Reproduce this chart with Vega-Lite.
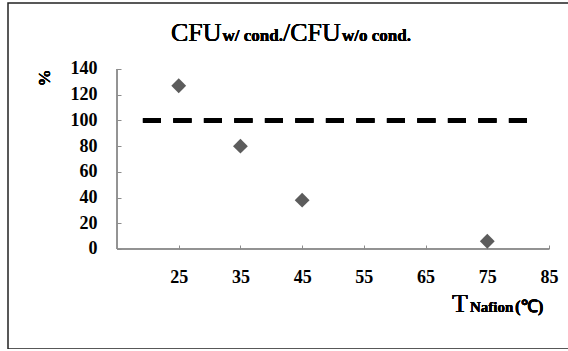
{
  "$schema": "https://vega.github.io/schema/vega-lite/v6.json",
  "autosize": {"type": "none"},
  "padding": {"left": 8, "top": 3, "right": 0, "bottom": 0},
  "width": 562,
  "height": 346,
  "background": "white",
  "config": {
    "view": {"stroke": "#222222", "strokeWidth": 1.5},
    "axis": {"grid": false, "domain": false}
  },
  "data": {
    "values": [
      {"T": 25, "ratio": 127},
      {"T": 35, "ratio": 80},
      {"T": 45, "ratio": 38},
      {"T": 75, "ratio": 6}
    ]
  },
  "layer": [
    {
      "mark": {"type": "rule", "color": "#8c8c8c", "strokeWidth": 1},
      "encoding": {
        "x": {"datum": 15, "type": "quantitative", "scale": {"domain": [-2.662, 88.4], "nice": false, "zero": false},
          "axis": {"values": [25, 35, 45, 55, 65, 75, 85], "offset": -100, "tickSize": -4, "tickColor": "#8c8c8c", "labelPadding": 23, "labelFont": "Liberation Serif", "labelFontWeight": "bold", "labelFontSize": 18, "labelColor": "black", "title": null}},
        "x2": {"datum": 85},
        "y": {"datum": 0, "type": "quantitative", "scale": {"domain": [-77.78, 191.33], "nice": false, "zero": false},
          "axis": {"values": [0, 20, 40, 60, 80, 100, 120, 140], "offset": -109, "tickSize": -4, "tickColor": "#8c8c8c", "labelPadding": 24, "labelFont": "Liberation Serif", "labelFontWeight": "bold", "labelFontSize": 18, "labelColor": "black", "title": null}}
      }
    },
    {
      "mark": {"type": "rule", "color": "#8c8c8c", "strokeWidth": 1},
      "encoding": {
        "x": {"datum": 15, "type": "quantitative"},
        "y": {"datum": 0, "type": "quantitative"},
        "y2": {"datum": 140}
      }
    },
    {
      "mark": {"type": "rule", "color": "black", "strokeWidth": 4.5, "strokeDash": [18, 12.5]},
      "encoding": {
        "x": {"datum": 19.2, "type": "quantitative"},
        "x2": {"datum": 82},
        "y": {"datum": 100, "type": "quantitative"}
      }
    },
    {
      "mark": {"type": "point", "shape": "diamond", "filled": true, "color": "#5c5c5c", "opacity": 1, "size": 220},
      "encoding": {
        "x": {"field": "T", "type": "quantitative"},
        "y": {"field": "ratio", "type": "quantitative"}
      }
    },
    {
      "mark": {"type": "text", "text": "CFU", "font": "Liberation Serif", "fontWeight": "normal", "fontSize": 26, "align": "left", "baseline": "alphabetic", "color": "black"},
      "encoding": {"x": {"datum": 23.75, "type": "quantitative"}, "y": {"datum": 161.8, "type": "quantitative"}}
    },
    {
      "mark": {"type": "text", "text": "w/ cond.", "font": "Liberation Serif", "fontWeight": "bold", "fontSize": 17, "align": "left", "baseline": "alphabetic", "color": "black"},
      "encoding": {"x": {"datum": 32.1, "type": "quantitative"}, "y": {"datum": 161.8, "type": "quantitative"}}
    },
    {
      "mark": {"type": "text", "text": "/CFU", "font": "Liberation Serif", "fontWeight": "normal", "fontSize": 26, "align": "left", "baseline": "alphabetic", "color": "black"},
      "encoding": {"x": {"datum": 41.9, "type": "quantitative"}, "y": {"datum": 161.8, "type": "quantitative"}}
    },
    {
      "mark": {"type": "text", "text": "w/o cond.", "font": "Liberation Serif", "fontWeight": "bold", "fontSize": 17, "align": "left", "baseline": "alphabetic", "color": "black"},
      "encoding": {"x": {"datum": 51.46, "type": "quantitative"}, "y": {"datum": 161.8, "type": "quantitative"}}
    },
    {
      "mark": {"type": "text", "text": "%", "font": "Liberation Serif", "fontWeight": "bold", "fontSize": 17, "angle": 270, "align": "center", "baseline": "middle", "color": "black"},
      "encoding": {"x": {"datum": 3.33, "type": "quantitative"}, "y": {"datum": 133.0, "type": "quantitative"}}
    },
    {
      "mark": {"type": "text", "text": "T", "font": "Liberation Serif", "fontWeight": "normal", "fontSize": 26, "align": "left", "baseline": "alphabetic", "color": "black"},
      "encoding": {"x": {"datum": 69.28, "type": "quantitative"}, "y": {"datum": -49.0, "type": "quantitative"}}
    },
    {
      "mark": {"type": "text", "text": "Nafion", "font": "Liberation Serif", "fontWeight": "bold", "fontSize": 15, "align": "left", "baseline": "alphabetic", "color": "black"},
      "encoding": {"x": {"datum": 72.2, "type": "quantitative"}, "y": {"datum": -49.0, "type": "quantitative"}}
    },
    {
      "mark": {"type": "text", "text": "(℃)", "font": "Liberation Serif", "fontWeight": "bold", "fontSize": 17, "align": "left", "baseline": "alphabetic", "color": "black"},
      "encoding": {"x": {"datum": 79.49, "type": "quantitative"}, "y": {"datum": -49.0, "type": "quantitative"}}
    }
  ]
}
